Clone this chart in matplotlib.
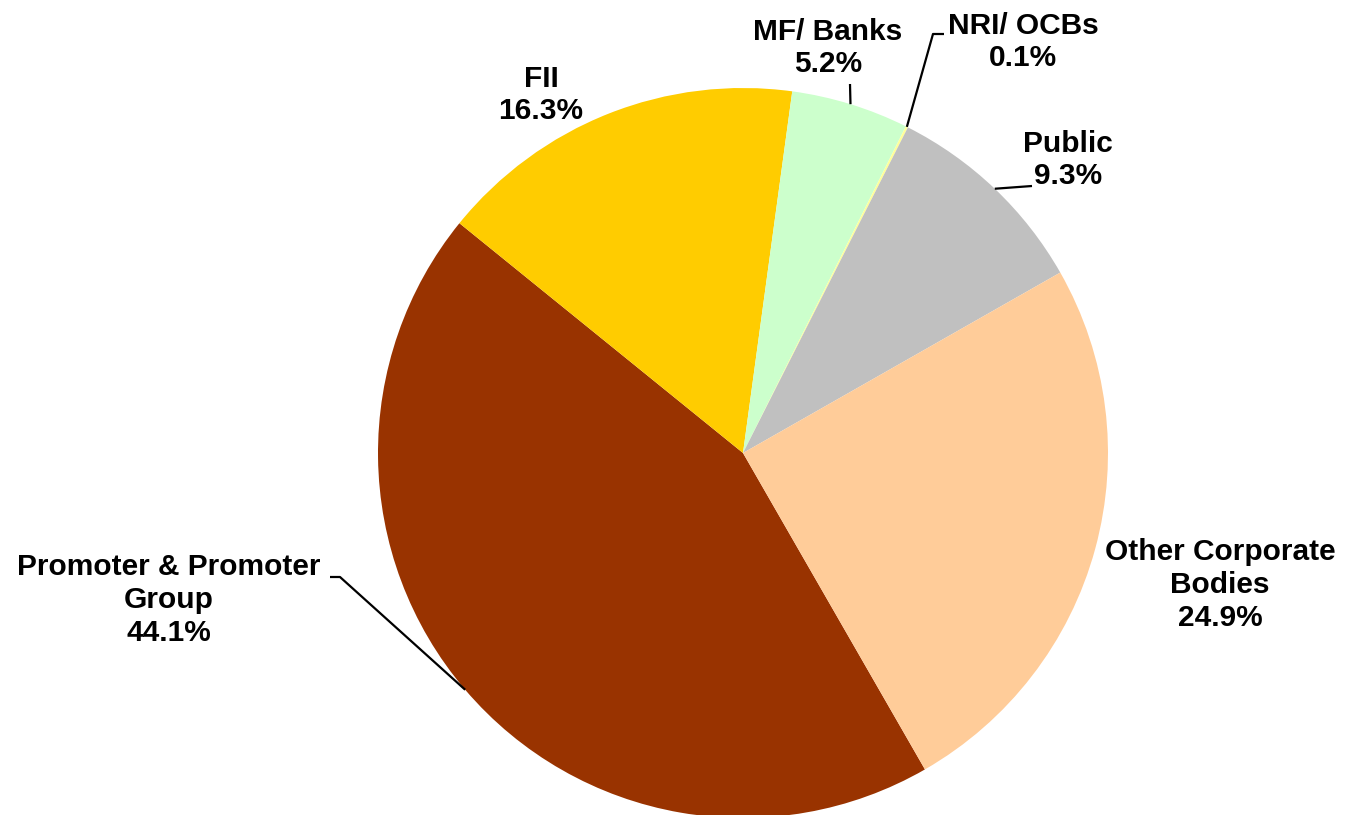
import numpy as np
import matplotlib.pyplot as plt

labels = ["Promoter & Promoter\nGroup", "FII", "MF/ Banks", "NRI/ OCBs",
          "Public", "Other Corporate\nBodies"]
shares = [44.1, 16.3, 5.2, 0.1, 9.3, 24.9]
colors = ["#993300", "#FFCC00", "#CCFFCC", "#FFFF99", "#C0C0C0", "#FFCC99"]

W, H = 1345, 815
cx, cy, r = 743, H - 453, 365

plt.rcParams['font.family'] = ['Liberation Sans', 'DejaVu Sans']

fig = plt.figure(figsize=(W / 100, H / 100), dpi=100)
ax = fig.add_axes([0, 0, 1, 1])

wedges, _ = ax.pie(shares, colors=colors, startangle=-60.1, counterclock=False,
                   center=(cx, cy), radius=r, frame=True)
ax.set_xlim(0, W)
ax.set_ylim(0, H)
ax.set_aspect('equal')
ax.axis('off')

# label block centre, plus the elbow/end of the leader line (None = no leader)
label_pos = [(169, H - 600), (541, H - 95), (828, H - 48), (1023, H - 42),
             (1068, H - 160), (1220, H - 585)]
leaders = [[(340, H - 577), (330, H - 577)],
           None,
           [(850, H - 84)],
           [(933, H - 34), (944, H - 34)],
           [(1032, H - 186)],
           None]

for w, lab, val, (tx, ty), lead in zip(wedges, labels, shares, label_pos, leaders):
    ax.text(tx, ty, f"{lab}\n{val:.1f}%", ha='center', va='center',
            fontsize=21.5, fontweight='bold', linespacing=1.22)
    if lead:
        mid = np.deg2rad((w.theta1 + w.theta2) / 2)
        pts = [(cx + r * np.cos(mid), cy + r * np.sin(mid))] + lead
        xs, ys = zip(*pts)
        ax.plot(xs, ys, color='black', lw=1.6, solid_capstyle='butt')

fig.savefig("out.png", dpi=100)
